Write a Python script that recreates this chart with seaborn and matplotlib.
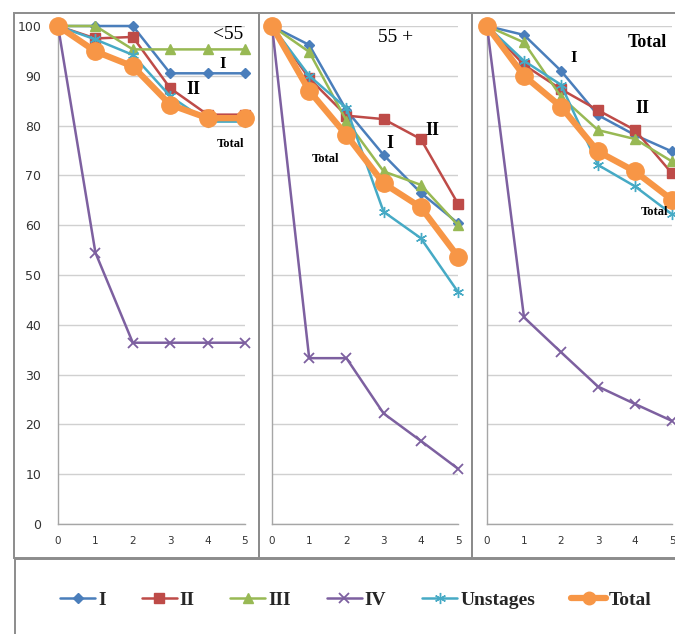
import matplotlib
matplotlib.use("Agg")
import matplotlib.pyplot as plt
import seaborn as sns
from matplotlib.lines import Line2D
from matplotlib.patches import Rectangle
from matplotlib.font_manager import FontProperties

# ---------------- data ----------------
years = [0, 1, 2, 3, 4, 5]
series_names = ["I", "II", "III", "IV", "Unstages", "Total"]
panel_titles = ["<55", "55 +", "Total"]

# panel 1: age < 55
I_lt55 = [100, 100, 100, 90.5, 90.5, 90.5]
II_lt55 = [100, 97.5, 97.8, 87.5, 82.2, 82.2]
III_lt55 = [100, 100, 95.3, 95.3, 95.3, 95.3]
IV_lt55 = [100, 54.5, 36.4, 36.4, 36.4, 36.4]
Un_lt55 = [100, 97.3, 94.2, 85.9, 80.8, 80.8]
Tot_lt55 = [100, 94.9, 91.9, 84.2, 81.5, 81.5]

# panel 2: age 55 +
I_55p = [100, 96.2, 83.1, 74.1, 66.5, 60.4]
II_55p = [100, 89.5, 82.0, 81.3, 77.3, 64.3]
III_55p = [100, 94.8, 81.0, 70.8, 68.1, 60.0]
IV_55p = [100, 33.3, 33.3, 22.2, 16.7, 11.1]
Un_55p = [100, 90.0, 83.5, 62.7, 57.4, 46.6]
Tot_55p = [100, 87.0, 78.1, 68.4, 63.6, 53.7]

# panel 3: total
I_tot = [100, 98.2, 91.0, 82.1, 78.1, 74.8]
II_tot = [100, 92.2, 87.3, 83.1, 79.1, 70.4]
III_tot = [100, 96.7, 85.8, 79.1, 77.3, 72.8]
IV_tot = [100, 41.5, 34.5, 27.6, 24.1, 20.7]
Un_tot = [100, 93.0, 88.2, 72.1, 67.8, 62.2]
Tot_tot = [100, 90.0, 83.8, 74.8, 70.8, 65.1]

panel_data = [
    [I_lt55, II_lt55, III_lt55, IV_lt55, Un_lt55, Tot_lt55],
    [I_55p, II_55p, III_55p, IV_55p, Un_55p, Tot_55p],
    [I_tot, II_tot, III_tot, IV_tot, Un_tot, Tot_tot],
]

# ---------------- styles ----------------
colors = {"I": "#4A7EBB", "II": "#BE4B48", "III": "#98B954",
          "IV": "#7D60A0", "Unstages": "#46AAC5", "Total": "#F79646"}
styles = {
    "I": dict(marker="D", markersize=5.5, linewidth=1.8, markeredgewidth=1),
    "II": dict(marker="s", markersize=6.5, linewidth=1.8, markeredgewidth=1),
    "III": dict(marker="^", markersize=7.5, linewidth=1.8, markeredgewidth=1),
    "IV": dict(marker="x", markersize=7.5, linewidth=1.8, markeredgewidth=1.3),
    "Unstages": dict(marker=(6, 2, 0), markersize=8, linewidth=1.8, markeredgewidth=1.0),
    "Total": dict(marker="o", markersize=12.5, linewidth=4.5, markeredgewidth=1),
}

sns.set_style("white")
plt.rcParams["font.family"] = ["DejaVu Sans"]

W, H = 675, 634
fig = plt.figure(figsize=(W / 100, H / 100), dpi=100)


def fx(px):
    return px / W


def fy(py):
    return 1 - py / H


box_col = "#8c8c8c"
# panel boxes
for x0, x1 in [(14, 259), (259, 472), (472, 700)]:
    fig.add_artist(Rectangle((fx(x0), fy(558)), (x1 - x0) / W, (558 - 13) / H,
                             transform=fig.transFigure, fill=False,
                             ec=box_col, lw=1.4))
# legend box
fig.add_artist(Rectangle((fx(15), fy(660)), (700 - 15) / W, (660 - 559) / H,
                         transform=fig.transFigure, fill=False, ec=box_col, lw=1.4))

axes_x = [(58, 245), (272, 458), (487, 672)]
serif = "Liberation Serif"

annotations = [
    [("<55", 4.55, 98.2, 14, "normal", "center"),
     ("I", 4.41, 92.3, 12, "bold", "center"),
     ("II", 3.62, 87.3, 13, "bold", "center"),
     ("Total", 4.62, 76.3, 9, "bold", "center")],
    [("55 +", 3.31, 97.6, 14, "normal", "center"),
     ("II", 4.30, 79.1, 13, "bold", "center"),
     ("I", 3.17, 76.5, 13, "bold", "center"),
     ("Total", 1.45, 73.3, 9, "bold", "center")],
    [("Total", 4.32, 96.6, 13, "bold", "center"),
     ("I", 2.35, 93.6, 12, "bold", "center"),
     ("II", 4.19, 83.5, 13, "bold", "center"),
     ("Total", 4.15, 62.7, 9, "bold", "left")],
]

for p, (xa, xb) in enumerate(axes_x):
    ax = fig.add_axes([fx(xa), fy(524), (xb - xa) / W, (524 - 26) / H])
    ax.set_facecolor("none")
    for k, name in enumerate(series_names):
        c = colors[name]
        sns.lineplot(x=years, y=panel_data[p][k], ax=ax, color=c,
                     markeredgecolor=c, clip_on=False, zorder=3 + k,
                     **styles[name])
    ax.set_xlim(0, 5)
    ax.set_ylim(0, 100)
    ax.set_xticks(years)
    ax.set_yticks(range(0, 101, 10))
    ax.grid(axis="y", color="#d0d0d0", lw=1)
    ax.grid(axis="x", visible=False)
    ax.set_axisbelow(True)
    for s in ["top", "right"]:
        ax.spines[s].set_visible(False)
    for s in ["left", "bottom"]:
        ax.spines[s].set_color("#a6a6a6")
        ax.spines[s].set_linewidth(1)
    ax.tick_params(axis="x", direction="out", length=3, width=1,
                   color="#a6a6a6", labelsize=7.5, labelcolor="#333333", pad=6)
    ax.tick_params(axis="y", direction="out", length=4, width=1,
                   color="#a6a6a6", labelsize=9, labelcolor="#333333", pad=8)
    if p > 0:
        ax.set_yticklabels([])
    ax.set_xlabel("")
    ax.set_ylabel("")
    for (s, x, y, fs, fw, ha) in annotations[p]:
        ax.text(x, y, s, ha=ha, va="center", fontfamily=serif, fontweight=fw,
                fontsize=fs, color="black", zorder=20, clip_on=False)

# legend
handles = []
for name in series_names:
    st = dict(styles[name])
    if name == "Total":
        st["markersize"] = 9
    handles.append(Line2D([0], [0], color=colors[name],
                          markeredgecolor=colors[name], **st))
fig.legend(handles, series_names, loc="center",
           bbox_to_anchor=(fx(356), fy(600)), ncol=6, frameon=False,
           prop=FontProperties(family=serif, weight="bold", size=14),
           handlelength=1.8, handletextpad=0.15, columnspacing=1.85)

fig.savefig("out.png", dpi=100)
